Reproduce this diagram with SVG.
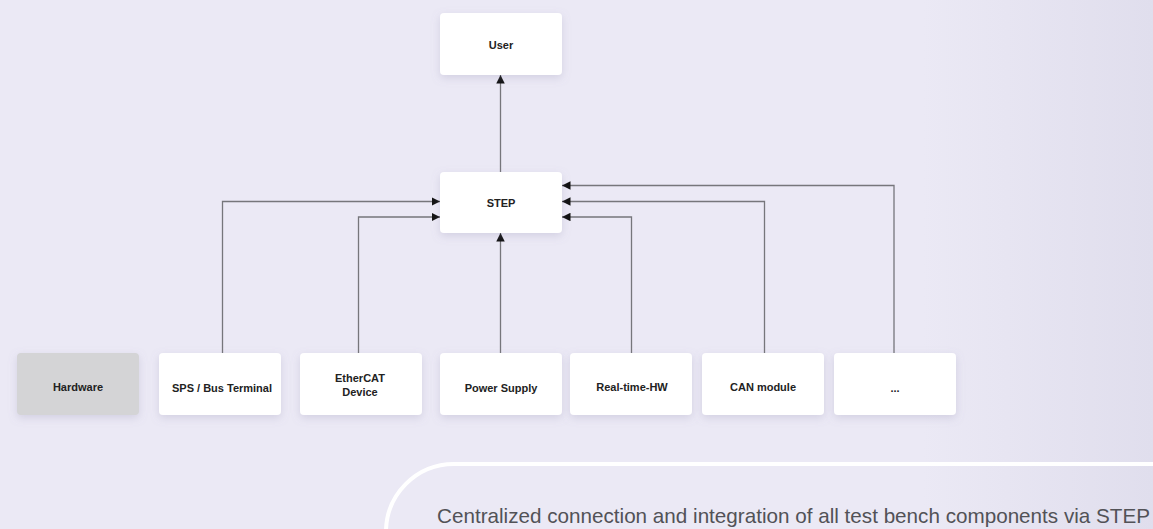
<svg xmlns="http://www.w3.org/2000/svg" width="1153" height="529" viewBox="0 0 1153 529">
  <defs>
    <linearGradient id="bg" x1="0" y1="0" x2="1153" y2="0" gradientUnits="userSpaceOnUse">
      <stop offset="0" stop-color="#ebe9f5"/>
      <stop offset="0.8" stop-color="#ebe9f5"/>
      <stop offset="1" stop-color="#e0deed"/>
    </linearGradient>
    <filter id="shadow" x="-20%" y="-20%" width="140%" height="160%">
      <feDropShadow dx="0" dy="3" stdDeviation="4" flood-color="#8a86a8" flood-opacity="0.25"/>
    </filter>
    <marker id="arrow" viewBox="0 0 10 10" refX="10" refY="5" markerWidth="8.5" markerHeight="8.5" markerUnits="userSpaceOnUse" orient="auto">
      <path d="M0,0 L10,5 L0,10 Z" fill="#111"/>
    </marker>
    <style>
      .box { fill: #ffffff; filter: url(#shadow); }
      .hw { fill: #d4d4d6; filter: url(#shadow); }
      .lbl { font-family: "Liberation Sans", Arial, sans-serif; font-weight: bold; font-size: 11px; fill: #222; text-anchor: middle; dominant-baseline: central; }
      .conn { fill: none; stroke: #76767b; stroke-width: 1.3; marker-end: url(#arrow); }
      .cap { font-family: "Liberation Sans", Arial, sans-serif; font-size: 20.6px; fill: #525257; }
    </style>
  </defs>
  <rect x="0" y="0" width="1153" height="529" fill="url(#bg)"/>

  <g id="caption-panel">
    <rect x="386" y="464" width="900" height="200" rx="68" ry="68" fill="none" stroke="#ffffff" stroke-width="4"/>
    <text class="cap" x="437" y="523" textLength="713" lengthAdjust="spacingAndGlyphs">Centralized connection and integration of all test bench components via STEP</text>
  </g>

  <g id="connectors">
    <path class="conn" d="M500.5,172 V75"/>
    <path class="conn" d="M222.5,353 V201.5 H440"/>
    <path class="conn" d="M358.5,353 V217 H440"/>
    <path class="conn" d="M500.5,353 V233"/>
    <path class="conn" d="M631.5,353 V217 H562"/>
    <path class="conn" d="M764.5,353 V201.5 H562"/>
    <path class="conn" d="M894,353 V185.5 H562"/>
  </g>

  <g id="node-user">
    <rect class="box" x="440" y="13" width="122" height="62" rx="4"/>
    <text class="lbl" x="501" y="45">User</text>
  </g>
  <g id="node-step">
    <rect class="box" x="440" y="172" width="122" height="61" rx="4"/>
    <text class="lbl" x="501" y="202.5">STEP</text>
  </g>
  <g id="node-hardware">
    <rect class="hw" x="17" y="353" width="122" height="62" rx="4"/>
    <text class="lbl" x="78" y="387">Hardware</text>
  </g>
  <g id="node-sps">
    <rect class="box" x="159" y="353" width="122" height="62" rx="4"/>
    <text class="lbl" x="222" y="388">SPS / Bus Terminal</text>
  </g>
  <g id="node-ethercat">
    <rect class="box" x="300" y="353" width="122" height="62" rx="4"/>
    <text class="lbl" x="360" y="378">EtherCAT</text>
    <text class="lbl" x="360" y="392">Device</text>
  </g>
  <g id="node-power">
    <rect class="box" x="440" y="353" width="122" height="62" rx="4"/>
    <text class="lbl" x="501" y="387.5">Power Supply</text>
  </g>
  <g id="node-realtime">
    <rect class="box" x="570" y="353" width="122" height="62" rx="4"/>
    <text class="lbl" x="632" y="386.5">Real-time-HW</text>
  </g>
  <g id="node-can">
    <rect class="box" x="702" y="353" width="122" height="62" rx="4"/>
    <text class="lbl" x="763" y="386.5">CAN module</text>
  </g>
  <g id="node-more">
    <rect class="box" x="834" y="353" width="122" height="62" rx="4"/>
    <text class="lbl" x="895" y="388">...</text>
  </g>
</svg>
